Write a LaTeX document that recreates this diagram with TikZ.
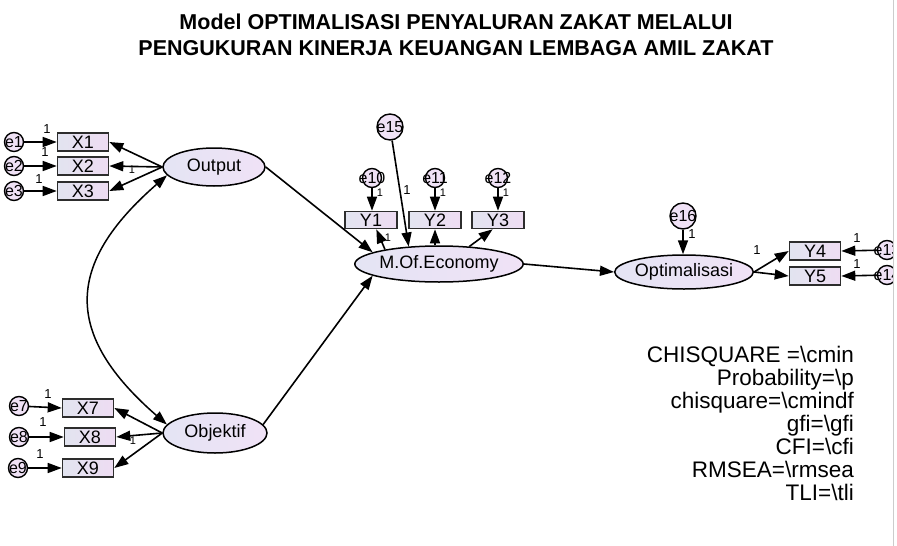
\documentclass[tikz,border=0pt]{standalone}
\usepackage{fontspec}
\setmainfont{Liberation Sans}
\usetikzlibrary{shapes.geometric,arrows.meta}
\definecolor{boxL}{RGB}{226,228,240}
\definecolor{boxR}{RGB}{238,220,242}
\definecolor{ellL}{RGB}{228,228,244}
\definecolor{ellR}{RGB}{240,226,246}
\definecolor{edgec}{RGB}{45,45,45}
\tikzset{
 obs/.style={draw=edgec,line width=1.6pt,rectangle,minimum width=51pt,minimum height=18pt,inner sep=0pt,left color=boxL,right color=boxR,font=\fontsize{18}{18}\selectfont},
 lat/.style={draw=black,line width=1.5pt,ellipse,inner sep=0pt,left color=ellL,right color=ellR,font=\fontsize{18}{18}\selectfont},
 err/.style={draw=black,line width=1.4pt,circle,inner sep=0pt,fill=ellR},
 errtxt/.style={font=\fontsize{16}{16}\selectfont,inner sep=0pt},
 arr/.style={line width=1.6pt,-{Triangle[length=14pt,width=10pt]}},
 darr/.style={line width=1.5pt,{Triangle[length=14pt,width=10pt]}-{Triangle[length=14pt,width=10pt]}},
 one/.style={font=\fontsize{13}{13}\selectfont,inner sep=0pt},
 sone/.style={font=\fontsize{11}{11}\selectfont,inner sep=0pt},
 stat/.style={font=\fontsize{22.5}{22.5}\selectfont,anchor=base east,inner sep=0pt},
}
\begin{document}
\begin{tikzpicture}[x=1pt,y=-1pt]
\useasboundingbox (0,0) rectangle (897,546);
\fill[white] (0,0) rectangle (897,546);

% title
\node[font=\bfseries\fontsize{21.5}{26.5}\selectfont,align=center] (title) at (456,35)
 {Model OPTIMALISASI PENYALURAN ZAKAT MELALUI\\PENGUKURAN KINERJA KEUANGAN LEMBAGA AMIL ZAKAT};

% latent variables
\node[lat,minimum width=102pt,minimum height=38pt] (Output) at (214,167) {Output};
\node[lat,minimum width=104pt,minimum height=40pt] (Objektif) at (215,433) {Objektif};
\node[lat,minimum width=112pt,minimum height=36pt] (M) at (439,264) {M.Of.Economy};
\node[lat,minimum width=106pt,minimum height=34pt] (Opt) at (684,272) {Optimalisasi};

% observed
\node[obs] (X1) at (83,142) {X1};
\node[obs] (X2) at (83,166) {X2};
\node[obs] (X3) at (83,191) {X3};
\node[obs] (X7) at (88,408) {X7};
\node[obs] (X8) at (90,437) {X8};
\node[obs] (X9) at (88,468) {X9};
\node[obs,minimum width=52pt,minimum height=17pt] (Y1) at (371,220) {Y1};
\node[obs,minimum width=52pt,minimum height=17pt] (Y2) at (435,220) {Y2};
\node[obs,minimum width=52pt,minimum height=17pt] (Y3) at (498,220) {Y3};
\node[obs] (Y4) at (815,251) {Y4};
\node[obs] (Y5) at (815,276) {Y5};

% errors
\foreach \n/\x/\y/\t in {e1/14/142/e1,e2/14/166/e2,e3/14/191/e3,e7/19/406/e7,e8/19/437/e8,e9/18/468/e9,e13/887/250/e13,e14/887/275/e14}{
  \node[err,minimum size=19pt] (\n) at (\x,\y) {};
  \node[errtxt] at (\n) {\t};
}
\foreach \n/\x/\t in {e10/372/e10,e11/435/e11,e12/498/e12}{
  \node[err,minimum size=19pt] (\n) at (\x,178) {};
  \node[errtxt] at (\n) {\t};
}
\node[err,minimum size=26pt] (e15) at (390,127) {};
\node[errtxt] at (e15) {e15};
\node[err,minimum size=26pt] (e16) at (683,216) {};
\node[errtxt] at (e16) {e16};

% error arrows
\foreach \e/\x in {e1/X1,e2/X2,e3/X3,e7/X7,e8/X8,e9/X9}{\draw[arr] (\e) -- (\x.west);}
\draw[arr] (e13) -- (Y4.east);
\draw[arr] (e14) -- (Y5.east);
\draw[arr] (e10) -- (e10 |- Y1.north);
\draw[arr] (e11) -- (e11 |- Y2.north);
\draw[arr] (e12) -- (e12 |- Y3.north);
\draw[arr] (e15) -- (M.150);
\draw[arr] (e16) -- (e16 |- Opt.north);

% loadings
\foreach \x in {X1,X2,X3}{\draw[arr] (Output.west) -- (\x.east);}
\foreach \x in {X7,X8,X9}{\draw[arr] (Objektif.west) -- (\x.east);}
\draw[arr] (M.165) -- (Y1.-60);
\draw[arr] (Y2.south |- M.north) -- (Y2.south);
\draw[arr] (M.30) -- (Y3.-120);
\draw[arr] (Opt.east) -- (Y4.west);
\draw[arr] (Opt.east) -- (Y5.west);

% structural
\draw[arr] (Output.east) -- (M.170);
\draw[arr] (Objektif.10) -- (M.190);
\draw[arr] (M.east) -- (Opt.west);
\draw[darr] (Output.190) .. controls (64,265) and (64,335) .. (Objektif.170);

% labels "1"
\foreach \x/\y in {47/129,45/152,39/179,48/394,43/422,40/454,407/190,692/234,757/250,857/238,857/264}{
  \node[one] at (\x,\y) {1};
}
\foreach \x/\y in {132/170,133/441,380/193,443/193,506/193,388/238}{
  \node[sone] at (\x,\y) {1};
}

% fit statistics
\node[stat] (s1) at (854,362) {CHISQUARE =\textbackslash cmin};
\node[stat] (s2) at (854,385.1) {Probability=\textbackslash p};
\node[stat] (s3) at (854,408.2) {chisquare=\textbackslash cmindf};
\node[stat] (s4) at (854,431.3) {gfi=\textbackslash gfi};
\node[stat] (s5) at (854,454.4) {CFI=\textbackslash cfi};
\node[stat] (s6) at (854,477.5) {RMSEA=\textbackslash rmsea};
\node[stat] (s7) at (854,500.6) {TLI=\textbackslash tli};

% right border
\fill[white] (893,0) rectangle (897,546);
\draw[black!20,line width=1.2pt] (893.5,0) -- (893.5,546);
\end{tikzpicture}
\end{document}
